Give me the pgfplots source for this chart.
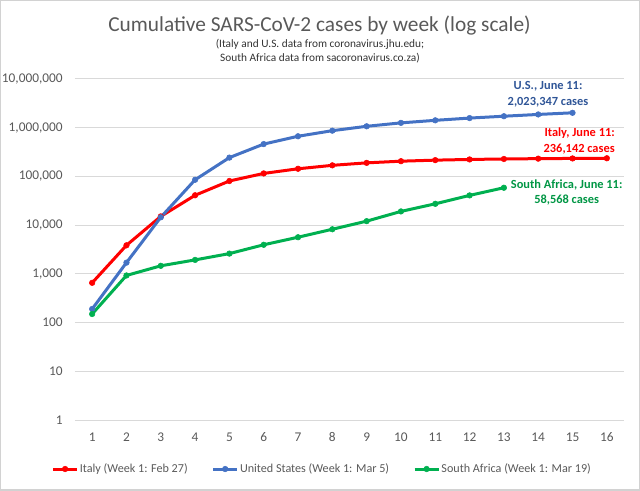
\documentclass[border=0pt]{standalone}
\usepackage{pgfplots}
\pgfplotsset{compat=1.18}
\usepackage{fontspec}
\setmainfont{Carlito}
\definecolor{itred}{HTML}{FF0000}
\definecolor{usblue}{HTML}{4472C4}
\definecolor{sagreen}{HTML}{00B050}
\definecolor{usdark}{HTML}{2F5597}
\definecolor{gridgray}{HTML}{D9D9D9}
\definecolor{txtgray}{HTML}{595959}
\begin{document}
\begin{tikzpicture}
\useasboundingbox (0pt,0pt) rectangle (480pt,367.5pt);
\draw[gray!35, line width=1.5pt] (0pt,0pt) rectangle (480pt,367.5pt);
\begin{axis}[
  at={(56.25pt,52.5pt)}, anchor=south west,
  scale only axis, width=411.75pt, height=255.75pt,
  ymode=log, log basis y=10,
  ymin=1, ymax=10000000,
  xmin=0.5, xmax=16.5,
  xtick={1,...,16},
  ytick={1,10,100,1000,10000,100000,1000000,10000000},
  yticklabels={1,10,100,{1,000},{10,000},{100,000},{1,000,000},{10,000,000}},
  xticklabels={1,2,3,4,5,6,7,8,9,10,11,12,13,14,15,16},
  ymajorgrids, grid style={gridgray, line width=0.75pt},
  axis line style={draw=none},
  major tick length=0pt, minor tick length=0pt,
  yminorticks=false,
  tick label style={font=\fontsize{10}{12}\selectfont, text=txtgray},
  yticklabel style={xshift=-5.7pt},
  xticklabel style={yshift=-6pt},
  legend columns=3,
  legend style={at={(0.4497,-0.1437)}, anchor=center, draw=none, fill=none,
    font=\fontsize{9.1}{11}\selectfont, text=txtgray,
    nodes={inner xsep=1pt},
    /tikz/every even column/.append style={column sep=17pt}},
  legend image code/.code={\draw[#1, mark=none] (0pt,0pt) -- (18pt,0pt);
    \draw[#1, mark repeat=1] plot coordinates {(9pt,0pt)};},
  every axis plot/.append style={line width=2.25pt, mark=*, mark size=2.1pt},
]
\addplot[color=itred, mark options={fill=itred, line width=0.4pt}] coordinates {
(1,655) (2,3858) (3,15113) (4,41035) (5,80589) (6,115242) (7,143626) (8,168941)
(9,189973) (10,205463) (11,215858) (12,223096) (13,228006) (14,231732) (15,234013) (16,236142)};
\addlegendentry{Italy (Week 1: Feb 27)}
\addplot[color=usblue, mark options={fill=usblue, line width=0.4pt}] coordinates {
(1,190) (2,1700) (3,14500) (4,85356) (5,243453) (6,461437) (7,667801) (8,869170)
(9,1069424) (10,1257023) (11,1417774) (12,1577147) (13,1721750) (14,1872660) (15,2023347)};
\addlegendentry{United States (Week 1: Mar 5)}
\addplot[color=sagreen, mark options={fill=sagreen, line width=0.4pt}] coordinates {
(1,150) (2,927) (3,1462) (4,1934) (5,2605) (6,3953) (7,5647) (8,8232)
(9,12074) (10,19137) (11,27403) (12,40792) (13,58568)};
\addlegendentry{South Africa (Week 1: Mar 19)}
\end{axis}
\node[font=\fontsize{16}{19}\selectfont, text=txtgray, anchor=base] at (239.6pt,343.5pt) {Cumulative SARS-CoV-2 cases by week (log scale)};
\node[font=\fontsize{8.5}{10}\selectfont, text=black!80, anchor=base] at (240pt,331.5pt) {(Italy and U.S. data from coronavirus.jhu.edu;};
\node[font=\fontsize{8.5}{10}\selectfont, text=black!80, anchor=base] at (240pt,321pt) {South Africa data from sacoronavirus.co.za)};
\node[font=\bfseries\fontsize{9.3}{11}\selectfont, text=usdark, anchor=base] at (411pt,300pt) {U.S., June 11:};
\node[font=\bfseries\fontsize{9.3}{11}\selectfont, text=usdark, anchor=base] at (411pt,288.2pt) {2,023,347 cases};
\node[font=\bfseries\fontsize{9.3}{11}\selectfont, text=itred, anchor=base east, inner sep=0pt] at (461.25pt,264.75pt) {Italy, June 11:};
\node[font=\bfseries\fontsize{9.3}{11}\selectfont, text=itred, anchor=base east, inner sep=0pt] at (461.25pt,252.75pt) {236,142 cases};
\node[font=\bfseries\fontsize{9.3}{11}\selectfont, text=sagreen!85!black, anchor=base] at (425pt,225.75pt) {South Africa, June 11:};
\node[font=\bfseries\fontsize{9.3}{11}\selectfont, text=sagreen!85!black, anchor=base] at (425pt,214.5pt) {58,568 cases};
\end{tikzpicture}
\end{document}
